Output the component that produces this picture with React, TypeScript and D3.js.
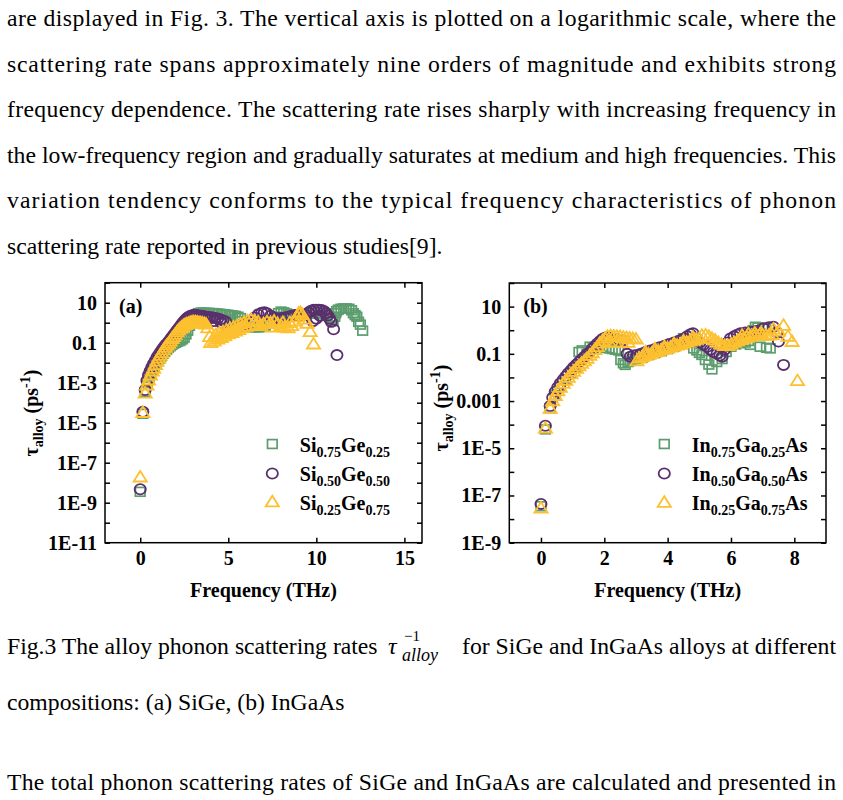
import React, { useEffect, useRef } from 'react';
import * as d3 from 'd3';

const SERIF = '"Liberation Serif", "Times New Roman", Times, serif';
const GREEN = '#5c9d6d';
const PURPLE = '#5a2f6d';
const YELLOW = '#fdc02f';

// page text
const introLines = [
  'are displayed in Fig. 3. The vertical axis is plotted on a logarithmic scale, where the',
  'scattering rate spans approximately nine orders of magnitude and exhibits strong',
  'frequency dependence. The scattering rate rises sharply with increasing frequency in',
  'the low-frequency region and gradually saturates at medium and high frequencies. This',
  'variation tendency conforms to the typical frequency characteristics of phonon',
];
const introLast = 'scattering rate reported in previous studies[9].';
const captionHead = 'Fig.3 The alloy phonon scattering rates';
const captionTail = 'for SiGe and InGaAs alloys at different';
const captionLine2 = 'compositions: (a) SiGe, (b) InGaAs';
const outroLine = 'The total phonon scattering rates of SiGe and InGaAs are calculated and presented in';

// axis ticks
const siGeFreqTicks = [0, 5, 10, 15];
const inGaAsFreqTicks = [0, 2, 4, 6, 8];
const siGeRateTicks = [1e2, 1e1, 1, 1e-1, 1e-2, 1e-3, 1e-4, 1e-5, 1e-6, 1e-7, 1e-8, 1e-9, 1e-10, 1e-11];
const inGaAsRateTicks = [1e2, 1e1, 1, 1e-1, 1e-2, 1e-3, 1e-4, 1e-5, 1e-6, 1e-7, 1e-8, 1e-9];
const siGeRateLabels: [number, string][] = [[1e1, '10'], [1e-1, '0.1'], [1e-3, '1E-3'], [1e-5, '1E-5'], [1e-7, '1E-7'], [1e-9, '1E-9'], [1e-11, '1E-11']];
const inGaAsRateLabels: [number, string][] = [[1e1, '10'], [1e-1, '0.1'], [1e-3, '0.001'], [1e-5, '1E-5'], [1e-7, '1E-7'], [1e-9, '1E-9']];

type Pt = [number, number];

// (a) SiGe: [frequency THz, rate ps^-1]
const si75ge25: Pt[] = [
  [0, 3.5e-9], [0.15, 2.8e-5], [0.28, 3.5e-4], [0.4, 1.0e-3], [0.5, 1.8e-3], [0.6, 2.8e-3], [0.7, 4.2e-3], [0.8, 6e-3],
  [0.9, 8.5e-3], [1.0, 1.2e-2], [1.1, 1.6e-2], [1.2, 2.1e-2], [1.3, 2.8e-2], [1.4, 3.6e-2], [1.5, 4.5e-2], [1.6, 5.5e-2],
  [1.7, 6.6e-2], [1.8, 7.8e-2], [1.9, 9e-2], [2.0, 0.1], [2.1, 0.11], [2.2, 0.12], [2.3, 0.13], [2.4, 0.15], [2.5, 0.18],
  [2.6, 0.26], [2.7, 0.4], [2.8, 0.7], [2.9, 1.1], [3.0, 1.6], [3.1, 2.1], [3.2, 2.6], [3.3, 3.0], [3.45, 3.2], [3.6, 3.2],
  [3.75, 3.1], [3.9, 3.1], [4.05, 3.0], [4.2, 3.0], [4.35, 2.9], [4.5, 2.8], [4.65, 2.7], [4.8, 2.6], [4.95, 2.5], [5.1, 2.4],
  [5.25, 2.3], [5.4, 2.2], [5.55, 2.0], [5.7, 1.7], [3.6, 1.7], [4.1, 1.6], [4.6, 1.5], [5.1, 1.4], [5.5, 1.2], [5.9, 0.8],
  [6.1, 0.7], [6.3, 0.62], [6.5, 0.58], [6.7, 0.58], [6.9, 0.62], [7.1, 0.72], [7.3, 0.9], [7.5, 1.3], [7.7, 2.0], [7.85, 3.0],
  [8.0, 3.6], [8.15, 3.3], [8.3, 2.9], [8.45, 2.6], [8.6, 2.5], [8.75, 2.4], [8.9, 2.4], [9.05, 2.3], [9.2, 2.3], [9.4, 2.5],
  [9.6, 2.8], [9.8, 3.0], [10.0, 3.2], [10.2, 3.0], [10.4, 2.6], [10.6, 2.2], [10.8, 1.8], [10.95, 1.2], [11.05, 2.0],
  [11.1, 3.0], [11.15, 3.8], [11.25, 4.5], [11.4, 5.0], [11.55, 5.2], [11.7, 5.2], [11.85, 5.0], [12.0, 4.2], [12.1, 3.0],
  [12.2, 2.4], [12.3, 2.0], [12.4, 1.1], [12.5, 0.8], [12.63, 0.4],
];
const si50ge50: Pt[] = [
  [0, 4.7e-9], [0.15, 3.5e-5], [0.28, 4.3e-4], [0.38, 1.3e-3], [0.47, 2.4e-3], [0.56, 3.8e-3], [0.66, 6e-3], [0.76, 9e-3],
  [0.86, 1.3e-2], [0.96, 1.9e-2], [1.06, 2.6e-2], [1.16, 3.5e-2], [1.26, 4.7e-2], [1.36, 6.2e-2], [1.46, 8e-2], [1.56, 0.1],
  [1.66, 0.13], [1.76, 0.17], [1.86, 0.22], [1.96, 0.29], [2.06, 0.38], [2.16, 0.5], [2.26, 0.65], [2.36, 0.85], [2.46, 1.1],
  [2.56, 1.4], [2.66, 1.7], [2.76, 2.0], [2.86, 2.2], [2.96, 2.35], [3.06, 2.4], [3.2, 2.4], [3.35, 2.3], [3.5, 2.2],
  [3.65, 2.1], [3.8, 2.0], [3.95, 1.9], [4.1, 1.8], [4.25, 1.7], [4.4, 1.6], [4.55, 1.45], [4.7, 1.3], [4.85, 1.15],
  [3.4, 1.5], [3.8, 1.4], [4.2, 1.2], [4.6, 1.0], [5.0, 0.35], [5.3, 0.45], [5.6, 0.6], [5.9, 0.8], [6.2, 1.1], [6.5, 1.8],
  [6.7, 2.6], [6.9, 3.1], [7.05, 3.3], [7.2, 3.0], [7.4, 2.2], [7.6, 1.8], [7.8, 1.6], [8.0, 1.7], [8.2, 1.8], [8.4, 2.0],
  [8.6, 2.2], [8.8, 2.4], [9.0, 2.5], [9.2, 2.3], [9.4, 2.4], [9.55, 3.2], [9.7, 4.0], [9.85, 4.4], [10.0, 4.5],
  [10.15, 4.5], [10.3, 4.3], [10.45, 3.7], [10.55, 3.0], [10.65, 2.3], [10.75, 1.6], [10.85, 1.1], [10.98, 0.47],
  [11.17, 0.024], [9.8, 1.2], [10.0, 1.6], [10.2, 2.2],
];
const si25ge75: Pt[] = [
  [0, 1.9e-8], [0.15, 3.2e-5], [0.28, 3.0e-4], [0.38, 7.5e-4], [0.47, 1.35e-3], [0.58, 2.4e-3], [0.68, 3.8e-3],
  [0.76, 5.2e-3], [0.86, 8e-3], [0.95, 1.2e-2], [1.04, 1.7e-2], [1.13, 2.3e-2], [1.22, 3.1e-2], [1.32, 4.3e-2],
  [1.42, 5.8e-2], [1.51, 7.4e-2], [1.61, 9.3e-2], [1.7, 0.12], [1.8, 0.16], [1.89, 0.2], [1.98, 0.26], [2.08, 0.34],
  [2.17, 0.42], [2.27, 0.52], [2.37, 0.62], [2.46, 0.72], [2.55, 0.8], [2.64, 0.87], [2.74, 0.93], [2.84, 1.0], [2.94, 1.05],
  [3.04, 1.1], [3.14, 1.1], [3.24, 1.05], [3.34, 1.0], [3.44, 0.98], [3.54, 0.95], [3.64, 0.9], [3.74, 0.85], [3.84, 0.55],
  [3.94, 0.2], [4.0, 0.1], [4.2, 0.12], [4.4, 0.15], [4.6, 0.18], [4.8, 0.22], [5.0, 0.27], [5.2, 0.32], [5.4, 0.38],
  [5.6, 0.45], [5.8, 0.55], [6.0, 0.65], [4.3, 0.25], [4.5, 0.3], [4.7, 0.35], [4.9, 0.42], [5.1, 0.5], [5.3, 0.6],
  [5.5, 0.7], [5.7, 0.85], [5.9, 1.0], [6.1, 1.2], [6.3, 1.4], [6.5, 1.2], [6.6, 0.8], [6.7, 1.1], [6.8, 0.7], [7.0, 0.9],
  [7.2, 1.1], [7.4, 1.0], [7.5, 0.6], [7.6, 1.2], [7.8, 0.9], [8.0, 0.7], [8.1, 1.0], [8.2, 0.6], [8.4, 0.55], [8.5, 1.0],
  [8.6, 0.7], [8.8, 1.2], [8.9, 2.0], [9.0, 3.0], [9.1, 3.2], [9.2, 2.5], [9.3, 1.5], [9.47, 0.93], [9.65, 0.35], [9.84, 0.085],
];

// (b) InGaAs
const in75ga25: Pt[] = [
  [0, 3.5e-8], [0.14, 6.3e-5], [0.29, 5.0e-4], [0.45, 1.8e-3], [0.61, 4.0e-3], [0.78, 8.0e-3], [0.95, 1.5e-2], [1.1, 2.6e-2],
  [1.2, 0.12], [1.3, 0.14], [1.45, 0.1], [1.55, 0.2], [1.65, 0.18], [1.75, 0.2], [1.85, 0.22], [1.95, 0.2], [2.05, 0.18],
  [2.15, 0.17], [2.25, 0.16], [2.35, 0.15], [2.45, 0.14], [2.52, 0.055], [2.6, 0.04], [2.66, 0.034], [2.75, 0.045],
  [2.82, 0.05], [2.9, 0.06], [3.0, 0.06], [3.2, 0.07], [3.4, 0.09], [3.6, 0.11], [3.8, 0.13], [4.0, 0.16], [4.2, 0.2],
  [4.35, 0.25], [4.5, 0.46], [4.6, 0.38], [4.7, 0.3], [4.82, 0.17], [4.92, 0.14], [5.0, 0.11], [5.08, 0.09], [5.19, 0.055],
  [5.3, 0.035], [5.4, 0.022], [5.55, 0.045], [5.72, 0.06], [5.85, 0.12], [6.0, 0.2], [6.15, 0.25], [6.3, 0.28], [6.45, 0.3],
  [6.55, 0.35], [6.61, 0.24], [6.7, 1.0], [6.77, 1.4], [6.85, 1.3], [6.92, 0.2], [7.0, 1.2], [7.08, 1.2], [7.12, 0.18],
  [7.24, 0.17],
];
const in50ga50: Pt[] = [
  [0, 4.4e-8], [0.14, 9.0e-5], [0.29, 6.2e-4], [0.37, 1.4e-3], [0.45, 2.5e-3], [0.53, 3.8e-3], [0.61, 5.6e-3], [0.7, 8e-3],
  [0.78, 1.1e-2], [0.86, 1.5e-2], [0.95, 2.0e-2], [1.03, 2.7e-2], [1.12, 3.5e-2], [1.2, 4.5e-2], [1.28, 5.8e-2],
  [1.37, 7.5e-2], [1.45, 9.5e-2], [1.54, 0.12], [1.62, 0.16], [1.7, 0.21], [1.78, 0.27], [1.86, 0.34], [1.94, 0.42],
  [2.02, 0.48], [2.1, 0.5], [2.2, 0.46], [2.4, 0.42], [2.6, 0.38], [2.72, 0.1], [2.82, 0.076], [2.92, 0.085], [3.02, 0.09],
  [3.15, 0.1], [3.3, 0.12], [3.45, 0.14], [3.6, 0.16], [3.75, 0.19], [3.9, 0.22], [4.05, 0.26], [4.2, 0.3], [4.35, 0.36],
  [4.5, 0.44], [4.62, 0.55], [4.72, 0.68], [4.8, 0.75], [4.92, 0.45], [5.02, 0.3], [5.13, 0.24], [5.25, 0.2], [5.35, 0.15],
  [5.45, 0.12], [5.56, 0.1], [5.65, 0.085], [5.72, 0.076], [5.8, 0.15], [5.9, 0.3], [5.98, 0.45], [6.1, 0.55], [6.2, 0.65],
  [6.3, 0.74], [6.45, 0.8], [6.6, 0.85], [6.71, 0.87], [6.85, 0.95], [7.03, 1.2], [7.2, 1.35], [7.34, 1.4], [7.45, 0.8],
  [7.5, 0.33], [7.66, 0.034],
];
const in25ga75: Pt[] = [
  [0, 2.9e-8], [0.14, 7.0e-5], [0.29, 4.9e-4], [0.37, 1.0e-3], [0.45, 1.7e-3], [0.53, 2.7e-3], [0.61, 3.8e-3],
  [0.7, 5.5e-3], [0.78, 7.5e-3], [0.86, 1.0e-2], [0.95, 1.4e-2], [1.03, 1.8e-2], [1.12, 2.4e-2], [1.2, 3.1e-2],
  [1.28, 3.9e-2], [1.37, 5.0e-2], [1.45, 6.3e-2], [1.54, 8.5e-2], [1.62, 0.11], [1.7, 0.15], [1.78, 0.2], [1.86, 0.28],
  [1.94, 0.36], [2.02, 0.45], [2.1, 0.55], [2.2, 0.58], [2.3, 0.56], [2.4, 0.55], [2.5, 0.53], [2.6, 0.5], [2.7, 0.48],
  [2.8, 0.46], [2.9, 0.44], [3.0, 0.42], [2.15, 0.32], [2.35, 0.3], [2.55, 0.3], [2.75, 0.3], [3.03, 0.05], [3.1, 0.065],
  [3.2, 0.075], [3.3, 0.085], [3.4, 0.095], [3.5, 0.105], [3.6, 0.12], [3.7, 0.13], [3.8, 0.145], [3.9, 0.16], [4.0, 0.175],
  [4.1, 0.19], [4.2, 0.21], [4.3, 0.23], [4.4, 0.25], [4.5, 0.28], [4.6, 0.31], [4.7, 0.34], [4.8, 0.37], [4.9, 0.41],
  [5.0, 0.45], [3.3, 0.12], [3.6, 0.16], [3.9, 0.2], [4.2, 0.27], [4.5, 0.35], [4.8, 0.5], [5.08, 0.6], [5.2, 0.62],
  [5.3, 0.55], [5.4, 0.45], [5.5, 0.38], [5.6, 0.3], [5.7, 0.25], [5.8, 0.22], [5.9, 0.22], [6.0, 0.25], [6.1, 0.3],
  [6.2, 0.35], [6.3, 0.4], [6.4, 0.45], [6.5, 0.5], [6.6, 0.55], [6.7, 0.6], [6.8, 0.62], [6.9, 0.62], [7.0, 0.6],
  [7.1, 0.6], [7.2, 0.62], [7.3, 0.65], [6.35, 0.6], [6.55, 0.7], [6.75, 0.75], [6.95, 0.78], [7.34, 1.1], [7.5, 0.9],
  [7.66, 1.6], [7.8, 0.55], [7.93, 0.33], [8.1, 7.2e-3],
];

type Shape = 'square' | 'circle' | 'triangle';
type Series = { label: [string, boolean][]; pts: Pt[]; shape: Shape; color: string };

const siGeSeries: Series[] = [
  { label: [['Si', false], ['0.75', true], ['Ge', false], ['0.25', true]], pts: si75ge25, shape: 'square', color: GREEN },
  { label: [['Si', false], ['0.50', true], ['Ge', false], ['0.50', true]], pts: si50ge50, shape: 'circle', color: PURPLE },
  { label: [['Si', false], ['0.25', true], ['Ge', false], ['0.75', true]], pts: si25ge75, shape: 'triangle', color: YELLOW },
];
const inGaAsSeries: Series[] = [
  { label: [['In', false], ['0.75', true], ['Ga', false], ['0.25', true], ['As', false]], pts: in75ga25, shape: 'square', color: GREEN },
  { label: [['In', false], ['0.50', true], ['Ga', false], ['0.50', true], ['As', false]], pts: in50ga50, shape: 'circle', color: PURPLE },
  { label: [['In', false], ['0.25', true], ['Ga', false], ['0.75', true], ['As', false]], pts: in25ga75, shape: 'triangle', color: YELLOW },
];

function Marker({ shape, color, x, y }: { shape: Shape; color: string; x: number; y: number }) {
  if (shape === 'square')
    return <rect x={x - 4.8} y={y - 4.4} width={9.6} height={8.8} fill="none" stroke={color} strokeWidth={1.7} />;
  if (shape === 'circle')
    return <ellipse cx={x} cy={y} rx={5.6} ry={5.1} fill="none" stroke={color} strokeWidth={1.8} />;
  return <path d={`M${x},${y - 6.2}L${x + 6.6},${y + 4.4}L${x - 6.6},${y + 4.4}Z`} fill="none" stroke={color} strokeWidth={1.8} strokeLinejoin="miter" />;
}

type PanelProps = {
  left: number; right: number; top: number; bottom: number;
  xDomain: [number, number]; yDomain: [number, number];
  xTicks: number[]; yTicks: number[]; yLabels: [number, string][];
  series: Series[]; tag: string; legendX: number; legendY: number[];
  yTitleX: number; yTitleY: number;
};

function Panel(p: PanelProps) {
  const axRef = useRef<SVGGElement>(null);
  const x = d3.scaleLinear().domain(p.xDomain).range([p.left, p.right]);
  const y = d3.scaleLog().domain(p.yDomain).range([p.bottom, p.top]);

  useEffect(() => {
    const g = d3.select(axRef.current);
    g.selectAll('*').remove();
    const fmt = (v: d3.NumberValue) => {
      const hit = p.yLabels.find((l) => Math.abs(Math.log10(l[0]) - Math.log10(+v)) < 1e-6);
      return hit ? hit[1] : '';
    };
    g.append('g').attr('transform', `translate(${p.left},0)`)
      .call(d3.axisLeft(y).tickValues(p.yTicks).tickFormat(fmt).tickSize(-5).tickSizeOuter(0).tickPadding(8));
    g.append('g').attr('transform', `translate(${p.right},0)`)
      .call(d3.axisRight(y).tickValues(p.yTicks).tickFormat(() => '').tickSize(-5).tickSizeOuter(0));
    g.append('g').attr('transform', `translate(0,${p.bottom})`)
      .call(d3.axisBottom(x).tickValues(p.xTicks).tickFormat(d3.format('d')).tickSize(-5).tickSizeOuter(0).tickPadding(8));
    g.append('g').attr('transform', `translate(0,${p.top})`)
      .call(d3.axisTop(x).tickValues(p.xTicks).tickFormat(() => '').tickSize(-5).tickSizeOuter(0));
    g.selectAll('.domain').remove();
    g.selectAll('line').attr('stroke', '#000').attr('stroke-width', 1.5);
    g.selectAll('text')
      .attr('font-family', SERIF).attr('font-size', 20).attr('font-weight', 'bold').attr('fill', '#000');
  }, []);

  const midX = (p.left + p.right) / 2;
  return (
    <g fontFamily={SERIF} fontWeight="bold">
      {p.series.map((s, si) => (
        <g key={si}>
          {s.pts.map((d, i) => (
            <Marker key={i} shape={s.shape} color={s.color} x={x(d[0])} y={y(d[1])} />
          ))}
        </g>
      ))}
      <rect x={p.left} y={p.top} width={p.right - p.left} height={p.bottom - p.top} fill="none" stroke="#000" strokeWidth={1.5} />
      <g ref={axRef} />
      <text x={p.left + 14} y={p.top + 30} fontSize={20}>{p.tag}</text>
      {p.series.map((s, si) => (
        <g key={si}>
          <Marker shape={s.shape} color={s.color} x={p.legendX} y={p.legendY[si]} />
          <text x={p.legendX + 27.5} y={p.legendY[si] + 7.5} fontSize={20}>
            {s.label.map(([t, sub], k) => (
              <tspan key={k} fontSize={sub ? 14 : 20} dy={k === 0 ? 0 : sub ? 5 : -5}>{t}</tspan>
            ))}
          </text>
        </g>
      ))}
      <text x={midX} y={p.bottom + 54} fontSize={20} textAnchor="middle">Frequency (THz)</text>
      <text transform={`translate(${p.yTitleX},${p.yTitleY}) rotate(-90)`} fontSize={20} textAnchor="middle">
        <tspan>τ</tspan>
        <tspan fontSize={14} dy={5}>alloy</tspan>
        <tspan dy={-5}> (ps</tspan>
        <tspan fontSize={14} dy={-8}>-1</tspan>
        <tspan dy={8}>)</tspan>
      </text>
    </g>
  );
}

export default function App() {
  const lineH = 45.6;
  return (
    <svg width={843} height={800} style={{ position: 'absolute', left: 0, top: 0, background: '#fff' }}>
      <g fontFamily={SERIF} fontSize={23.7} fill="#000">
        {introLines.map((t, i) => (
          <text key={i} x={7} y={26 + i * lineH} textLength={829} lengthAdjust="spacing">{t}</text>
        ))}
        <text x={7} y={26 + introLines.length * lineH}>{introLast}</text>

        <text x={7} y={654}>{captionHead}</text>
        <text x={388} y={654} fontStyle="italic" fontSize={24}>τ</text>
        <text x={404} y={641} fontSize={15}>−1</text>
        <text x={402} y={661} fontStyle="italic" fontSize={18}>alloy</text>
        <text x={462} y={654} textLength={374} lengthAdjust="spacing">{captionTail}</text>
        <text x={7} y={710}>{captionLine2}</text>
        <text x={7} y={790} textLength={829} lengthAdjust="spacing">{outroLine}</text>
      </g>

      <Panel
        left={105} right={422} top={282.7} bottom={542.7}
        xDomain={[-2, 16]} yDomain={[1e-11, 1e2]}
        xTicks={siGeFreqTicks} yTicks={siGeRateTicks} yLabels={siGeRateLabels}
        series={siGeSeries} tag="(a)" legendX={272.3} legendY={[444, 473.5, 502]}
        yTitleX={37.5} yTitleY={413}
      />
      <Panel
        left={509.3} right={826} top={283} bottom={542.7}
        xDomain={[-1, 9]} yDomain={[1e-9, 1e2]}
        xTicks={inGaAsFreqTicks} yTicks={inGaAsRateTicks} yLabels={inGaAsRateLabels}
        series={inGaAsSeries} tag="(b)" legendX={664.3} legendY={[444, 473.5, 502.5]}
        yTitleX={448} yTitleY={408}
      />
    </svg>
  );
}
